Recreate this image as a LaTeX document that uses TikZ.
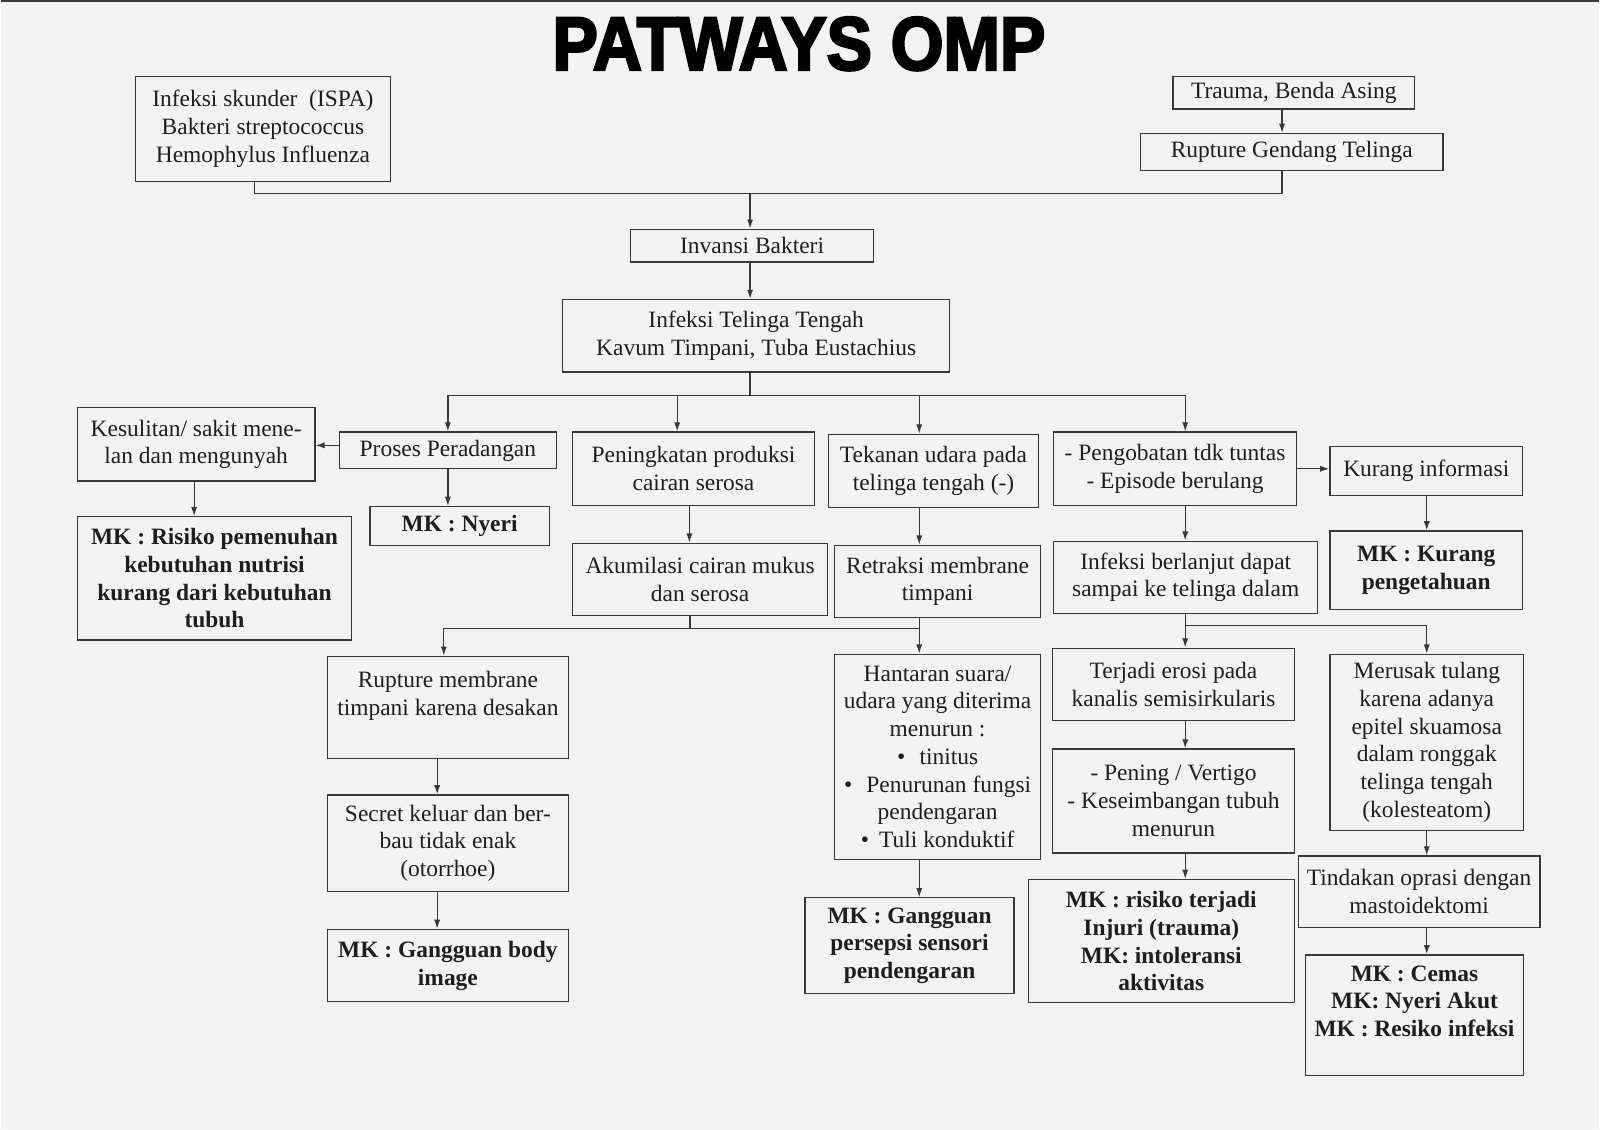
\documentclass[tikz,border=0pt]{standalone}
\usepackage{fontspec}
\setmainfont{Liberation Serif}
\newfontfamily\judulfont[FakeBold=3.5]{Liberation Sans Bold}
\usetikzlibrary{arrows.meta}
\definecolor{latar}{HTML}{F3F3F3}
\definecolor{abu}{HTML}{383838}
\definecolor{tinta}{HTML}{1E1E1E}

\begin{document}
\begin{tikzpicture}[x=1pt,y=-1pt,
        font=\fontsize{23}{27.2}\selectfont, text=tinta,
        garis/.style={draw=abu, line width=1.2pt},
        panah/.style={garis, -{Latex[length=9pt,width=6pt]}},
        kotak/.style={garis, align=center, inner sep=0pt},
        mk/.style={kotak, font=\fontsize{23}{27.2}\selectfont\bfseries},
        ukuran/.style 2 args={minimum width=#1pt, minimum height=#2pt}]
    \fill[latar] (0,0) rectangle (1568,1108);
    \draw[abu, line width=2pt] (0,1) -- (1568,1);

    \node[text=black] (judul) at (783,43) {\judulfont\fontsize{74}{74}\selectfont\scalebox{0.9}[1]{PATWAYS OMP}};

    \node[kotak, ukuran={250}{103}] (infeksiAwal) at (257,126.5) {Infeksi skunder~~(ISPA)\\Bakteri streptococcus\\Hemophylus Influenza};
    \node[kotak, ukuran={237}{32}] (trauma) at (1268.5,91) {Trauma, Benda Asing};
    \node[kotak, ukuran={297}{36}] (rupGendang) at (1266.5,149) {Rupture Gendang Telinga};
    \node[kotak, ukuran={238}{32}] (invansi) at (737,241) {Invansi Bakteri};
    \node[kotak, ukuran={380}{71}] (telinga) at (741,329.5) {Infeksi Telinga Tengah\\Kavum Timpani, Tuba Eustachius};

    \node[kotak, ukuran={233}{72}] (kesulitan) at (191.5,436) {Kesulitan/ sakit mene-\\lan dan mengunyah};
    \node[kotak, ukuran={213}{36}] (proses) at (438.5,442) {Proses Peradangan};
    \node[kotak, ukuran={237}{72}] (peningkatan) at (679.5,460) {Peningkatan produksi\\cairan serosa};
    \node[kotak, ukuran={206}{72}] (tekanan) at (915,462) {Tekanan udara pada\\telinga tengah (-)};
    \node[kotak, ukuran={238}{72}] (pengobatan) at (1152,460) {- Pengobatan tdk tuntas\\- Episode berulang};
    \node[kotak, ukuran={189}{48}] (kurangInfo) at (1398.5,462) {Kurang informasi};

    \node[mk, ukuran={269}{121}] (mkNutrisi) at (209.5,567.5) {MK : Risiko pemenuhan\\kebutuhan nutrisi\\kurang dari kebutuhan\\tubuh};
    \node[mk, ukuran={176}{38}] (mkNyeri) at (450,516) {MK : Nyeri};
    \node[kotak, ukuran={250}{71}] (akumulasi) at (686,568.5) {Akumilasi cairan mukus\\dan serosa};
    \node[kotak, ukuran={202}{71}] (retraksi) at (919,570.5) {Retraksi membrane\\timpani};
    \node[kotak, ukuran={259}{71}] (berlanjut) at (1162.5,566.5) {Infeksi berlanjut dapat\\sampai ke telinga dalam};
    \node[mk, ukuran={189}{77}] (mkKurang) at (1398.5,559.5) {MK : Kurang\\pengetahuan};

    \node[kotak, ukuran={237}{100}] (rupMembran) at (438.5,694) {Rupture membrane\\timpani karena desakan\\~};
    \node[kotak, ukuran={202}{201}] (hantaran) at (919,742.5) {Hantaran suara/\\udara yang diterima\\menurun :\\\textbullet\hspace{14pt}tinitus\\\textbullet\hspace{14pt}Penurunan fungsi\\pendengaran\\\textbullet\hspace{10pt}Tuli konduktif};
    \node[kotak, ukuran={237}{71}] (erosi) at (1150.5,671.5) {Terjadi erosi pada\\kanalis semisirkularis};
    \node[kotak, ukuran={190}{173}] (merusak) at (1399,728.5) {Merusak tulang\\karena adanya\\epitel skuamosa\\dalam ronggak\\telinga tengah\\(kolesteatom)};
    \node[kotak, ukuran={237}{95}] (secret) at (438.5,827.5) {Secret keluar dan ber-\\bau tidak enak\\(otorrhoe)};
    \node[kotak, ukuran={237}{102}] (pening) at (1150.5,786) {- Pening / Vertigo\\- Keseimbangan tubuh\\menurun};
    \node[kotak, ukuran={237}{70}] (tindakan) at (1391.5,875) {Tindakan oprasi dengan\\mastoidektomi};

    \node[mk, ukuran={237}{71}] (mkBody) at (438.5,947.5) {MK : Gangguan body\\image};
    \node[mk, ukuran={205}{94}] (mkPersepsi) at (891.5,928) {MK : Gangguan\\persepsi sensori\\pendengaran};
    \node[mk, ukuran={261}{121}] (mkInjuri) at (1138.5,923.5) {MK : risiko terjadi\\Injuri (trauma)\\MK: intoleransi\\aktivitas};
    \node[mk, ukuran={214}{118}] (mkCemas) at (1387,996) {MK : Cemas\\MK: Nyeri Akut\\MK : Resiko infeksi\\~};

    \coordinate (gabung) at (735,190);
    \coordinate (cabang) at (735,388);
    \coordinate (gabungKiri) at (676,617);
    \coordinate (gabungKanan) at (1162,614);
    \coordinate (jalurT) at (1257,0);
    \coordinate (jalurB) at (901,0);
    \coordinate (jalurC) at (1162,0);
    \coordinate (jalurD) at (1399,0);
    \coordinate (jalurE) at (428,0);

    \draw[garis] ([xshift=-8pt]infeksiAwal.south) |- (gabung) -| (rupGendang.south -| jalurT);
    \draw[panah] (trauma.south -| jalurT) -- (rupGendang.north -| jalurT);
    \draw[panah] (gabung) -- (invansi.north -| gabung);
    \draw[panah] (invansi.south -| gabung) -- (telinga.north -| gabung);
    \draw[garis] (telinga.south -| cabang) -- (cabang);
    \draw[panah] (cabang) -| (proses.north);
    \draw[panah] (cabang) -| ([xshift=-16pt]peningkatan.north);
    \draw[panah] (cabang) -| (tekanan.north -| jalurB);
    \draw[panah] (cabang) -| (pengobatan.north -| jalurC);

    \draw[panah] ([yshift=5pt]proses.west) -- ([yshift=5pt]proses.west -| kesulitan.east);
    \draw[panah] ([xshift=-2pt]kesulitan.south) -- ([xshift=-2pt]kesulitan.south |- mkNutrisi.north);
    \draw[panah] (proses.south) -- (proses.south |- mkNyeri.north);
    \draw[panah] ([xshift=-4pt]peningkatan.south) -- ([xshift=-4pt]peningkatan.south |- akumulasi.north);
    \draw[panah] (pengobatan.east) -- (pengobatan.east -| kurangInfo.west);

    \draw[garis] (akumulasi.south -| gabungKiri) -- (gabungKiri) -- (gabungKiri -| jalurB);
    \draw[panah] (gabungKiri) -| ([xshift=-4pt]rupMembran.north);
    \draw[garis] (berlanjut.south -| jalurC) -- (gabungKanan);
    \draw[panah] (gabungKanan) -| (merusak.north -| jalurD);

    \foreach \dari/\ke/\jalur in {tekanan/retraksi/jalurB, retraksi/hantaran/jalurB, hantaran/mkPersepsi/jalurB,
            rupMembran/secret/jalurE, secret/mkBody/jalurE,
            pengobatan/berlanjut/jalurC, berlanjut/erosi/jalurC, erosi/pening/jalurC, pening/mkInjuri/jalurC,
            kurangInfo/mkKurang/jalurD, merusak/tindakan/jalurD, tindakan/mkCemas/jalurD}
        \draw[panah] (\dari.south -| \jalur) -- (\ke.north -| \jalur);
\end{tikzpicture}
\end{document}
